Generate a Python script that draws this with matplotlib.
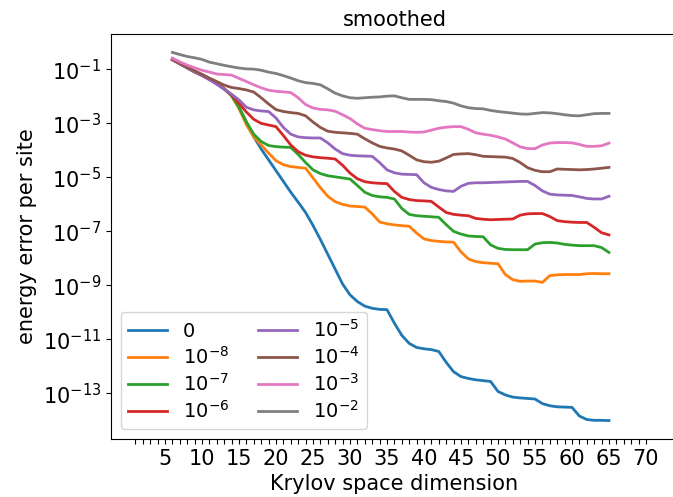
import numpy as np
import matplotlib
matplotlib.use("Agg")
import matplotlib.pyplot as plt

# Krylov space dimension
krylov_dim = list(range(6, 66))

# log10 of energy error per site, one list per noise level
log_err_0 = [-0.64, -0.79, -0.94, -1.09, -1.22, -1.37, -1.53, -1.72, -1.98, -2.40,
             -2.95, -3.50, -3.95, -4.35, -4.75, -5.15, -5.55, -5.92, -6.30, -6.78,
             -7.30, -7.85, -8.40, -8.95, -9.35, -9.60, -9.77, -9.85, -9.89, -9.90,
             -10.40, -10.85, -11.15, -11.30, -11.35, -11.38, -11.45, -11.85, -12.20, -12.38,
             -12.45, -12.50, -12.53, -12.56, -12.93, -13.06, -13.14, -13.17, -13.19, -13.21,
             -13.38, -13.46, -13.50, -13.51, -13.52, -13.84, -13.97, -14.00, -14.00, -14.01]
log_err_1e8 = [-0.64, -0.79, -0.94, -1.09, -1.22, -1.37, -1.53, -1.72, -1.98, -2.45,
               -3.05, -3.50, -3.80, -4.10, -4.38, -4.53, -4.60, -4.63, -4.66, -5.02,
               -5.38, -5.70, -5.90, -6.00, -6.06, -6.08, -6.10, -6.35, -6.65, -6.72,
               -6.76, -6.79, -6.81, -7.06, -7.28, -7.34, -7.37, -7.39, -7.40, -7.76,
               -8.02, -8.12, -8.16, -8.18, -8.20, -8.60, -8.79, -8.85, -8.84, -8.84,
               -8.89, -8.64, -8.61, -8.60, -8.60, -8.60, -8.57, -8.56, -8.57, -8.57]
log_err_1e7 = [-0.64, -0.79, -0.94, -1.09, -1.22, -1.37, -1.53, -1.72, -1.97, -2.40,
               -2.95, -3.40, -3.67, -3.82, -3.86, -3.88, -3.89, -4.15, -4.45, -4.72,
               -4.86, -4.94, -4.98, -5.02, -5.06, -5.30, -5.55, -5.67, -5.72, -5.74,
               -5.80, -6.15, -6.37, -6.42, -6.44, -6.46, -6.48, -6.75, -7.00, -7.10,
               -7.17, -7.19, -7.20, -7.50, -7.63, -7.67, -7.68, -7.68, -7.68, -7.47,
               -7.42, -7.41, -7.43, -7.48, -7.51, -7.53, -7.53, -7.53, -7.60, -7.78]
log_err_1e6 = [-0.64, -0.79, -0.94, -1.09, -1.22, -1.37, -1.53, -1.72, -1.95, -2.25,
               -2.58, -2.85, -3.00, -3.06, -3.12, -3.45, -3.80, -4.05, -4.18, -4.24,
               -4.27, -4.29, -4.32, -4.55, -4.84, -5.05, -5.16, -5.20, -5.22, -5.23,
               -5.52, -5.74, -5.82, -5.86, -5.87, -5.89, -6.10, -6.30, -6.37, -6.40,
               -6.42, -6.52, -6.55, -6.57, -6.56, -6.55, -6.54, -6.40, -6.35, -6.34,
               -6.34, -6.45, -6.60, -6.64, -6.66, -6.67, -6.67, -6.85, -7.05, -7.13]
log_err_1e5 = [-0.64, -0.79, -0.94, -1.09, -1.22, -1.38, -1.55, -1.74, -1.92, -2.13,
               -2.40, -2.50, -2.54, -2.56, -2.80, -3.15, -3.40, -3.50, -3.53, -3.54,
               -3.54, -3.72, -3.95, -4.12, -4.18, -4.20, -4.21, -4.22, -4.45, -4.72,
               -4.83, -4.88, -4.89, -4.90, -5.20, -5.37, -5.45, -5.50, -5.52, -5.33,
               -5.22, -5.20, -5.20, -5.19, -5.18, -5.17, -5.16, -5.15, -5.15, -5.30,
               -5.50, -5.62, -5.65, -5.66, -5.67, -5.72, -5.78, -5.80, -5.80, -5.70]
log_err_1e4 = [-0.62, -0.77, -0.92, -1.05, -1.18, -1.32, -1.45, -1.58, -1.67, -1.71,
               -1.76, -1.84, -2.05, -2.28, -2.49, -2.56, -2.60, -2.63, -2.72, -2.95,
               -3.15, -3.29, -3.33, -3.35, -3.37, -3.40, -3.57, -3.72, -3.85, -3.91,
               -3.95, -4.02, -4.18, -4.35, -4.42, -4.44, -4.40, -4.28, -4.15, -4.13,
               -4.12, -4.16, -4.22, -4.23, -4.24, -4.25, -4.30, -4.45, -4.64, -4.74,
               -4.79, -4.79, -4.69, -4.70, -4.71, -4.72, -4.71, -4.69, -4.66, -4.63]
log_err_1e3 = [-0.58, -0.72, -0.84, -0.94, -1.03, -1.10, -1.17, -1.19, -1.21, -1.33,
               -1.45, -1.57, -1.68, -1.77, -1.81, -1.83, -1.86, -2.05, -2.30, -2.43,
               -2.48, -2.50, -2.55, -2.68, -2.82, -3.02, -3.18, -3.23, -3.27, -3.30,
               -3.30, -3.30, -3.32, -3.33, -3.32, -3.25, -3.18, -3.14, -3.12, -3.12,
               -3.22, -3.35, -3.40, -3.44, -3.50, -3.58, -3.72, -3.87, -3.93, -3.94,
               -3.80, -3.73, -3.71, -3.71, -3.72, -3.78, -3.85, -3.85, -3.83, -3.73]
log_err_1e2 = [-0.37, -0.45, -0.52, -0.57, -0.63, -0.73, -0.79, -0.85, -0.90, -0.95,
               -0.98, -0.99, -1.03, -1.10, -1.15, -1.23, -1.32, -1.42, -1.49, -1.52,
               -1.57, -1.72, -1.88, -1.98, -2.05, -2.07, -2.05, -2.03, -2.02, -1.99,
               -1.98, -2.05, -2.11, -2.11, -2.11, -2.12, -2.16, -2.19, -2.25, -2.35,
               -2.42, -2.45, -2.46, -2.52, -2.56, -2.59, -2.62, -2.65, -2.66, -2.63,
               -2.60, -2.61, -2.64, -2.68, -2.71, -2.72, -2.68, -2.64, -2.63, -2.63]

series_labels = ["0", "$10^{-8}$", "$10^{-7}$", "$10^{-6}$",
                 "$10^{-5}$", "$10^{-4}$", "$10^{-3}$", "$10^{-2}$"]
series_logs = [log_err_0, log_err_1e8, log_err_1e7, log_err_1e6,
               log_err_1e5, log_err_1e4, log_err_1e3, log_err_1e2]

x_tick_positions = list(range(1, 71))
x_tick_labels = [str(i) if i % 5 == 0 else "" for i in x_tick_positions]

plt.rcParams['font.size'] = 15

fig = plt.figure(figsize=(6.73, 4.97), dpi=100)
ax = fig.add_axes([0.1649, 0.1167, 0.8422, 0.8149])

for lbl, vals in zip(series_labels, series_logs):
    ax.plot(krylov_dim, 10.0 ** np.array(vals), label=lbl, lw=2)

ax.set_yscale('log')
ax.set_xlim(-2.3, 74.3)
ax.set_xticks(x_tick_positions)
ax.set_xticklabels(x_tick_labels)
ax.set_title("smoothed", fontsize=15)
ax.set_xlabel("Krylov space dimension")
ax.set_ylabel("energy error per site")
ax.legend(loc='lower left', ncol=2, fontsize=14, labelspacing=0.25,
          borderpad=0.4, handletextpad=0.8, columnspacing=1.5)

fig.savefig("out.png", dpi=100)
